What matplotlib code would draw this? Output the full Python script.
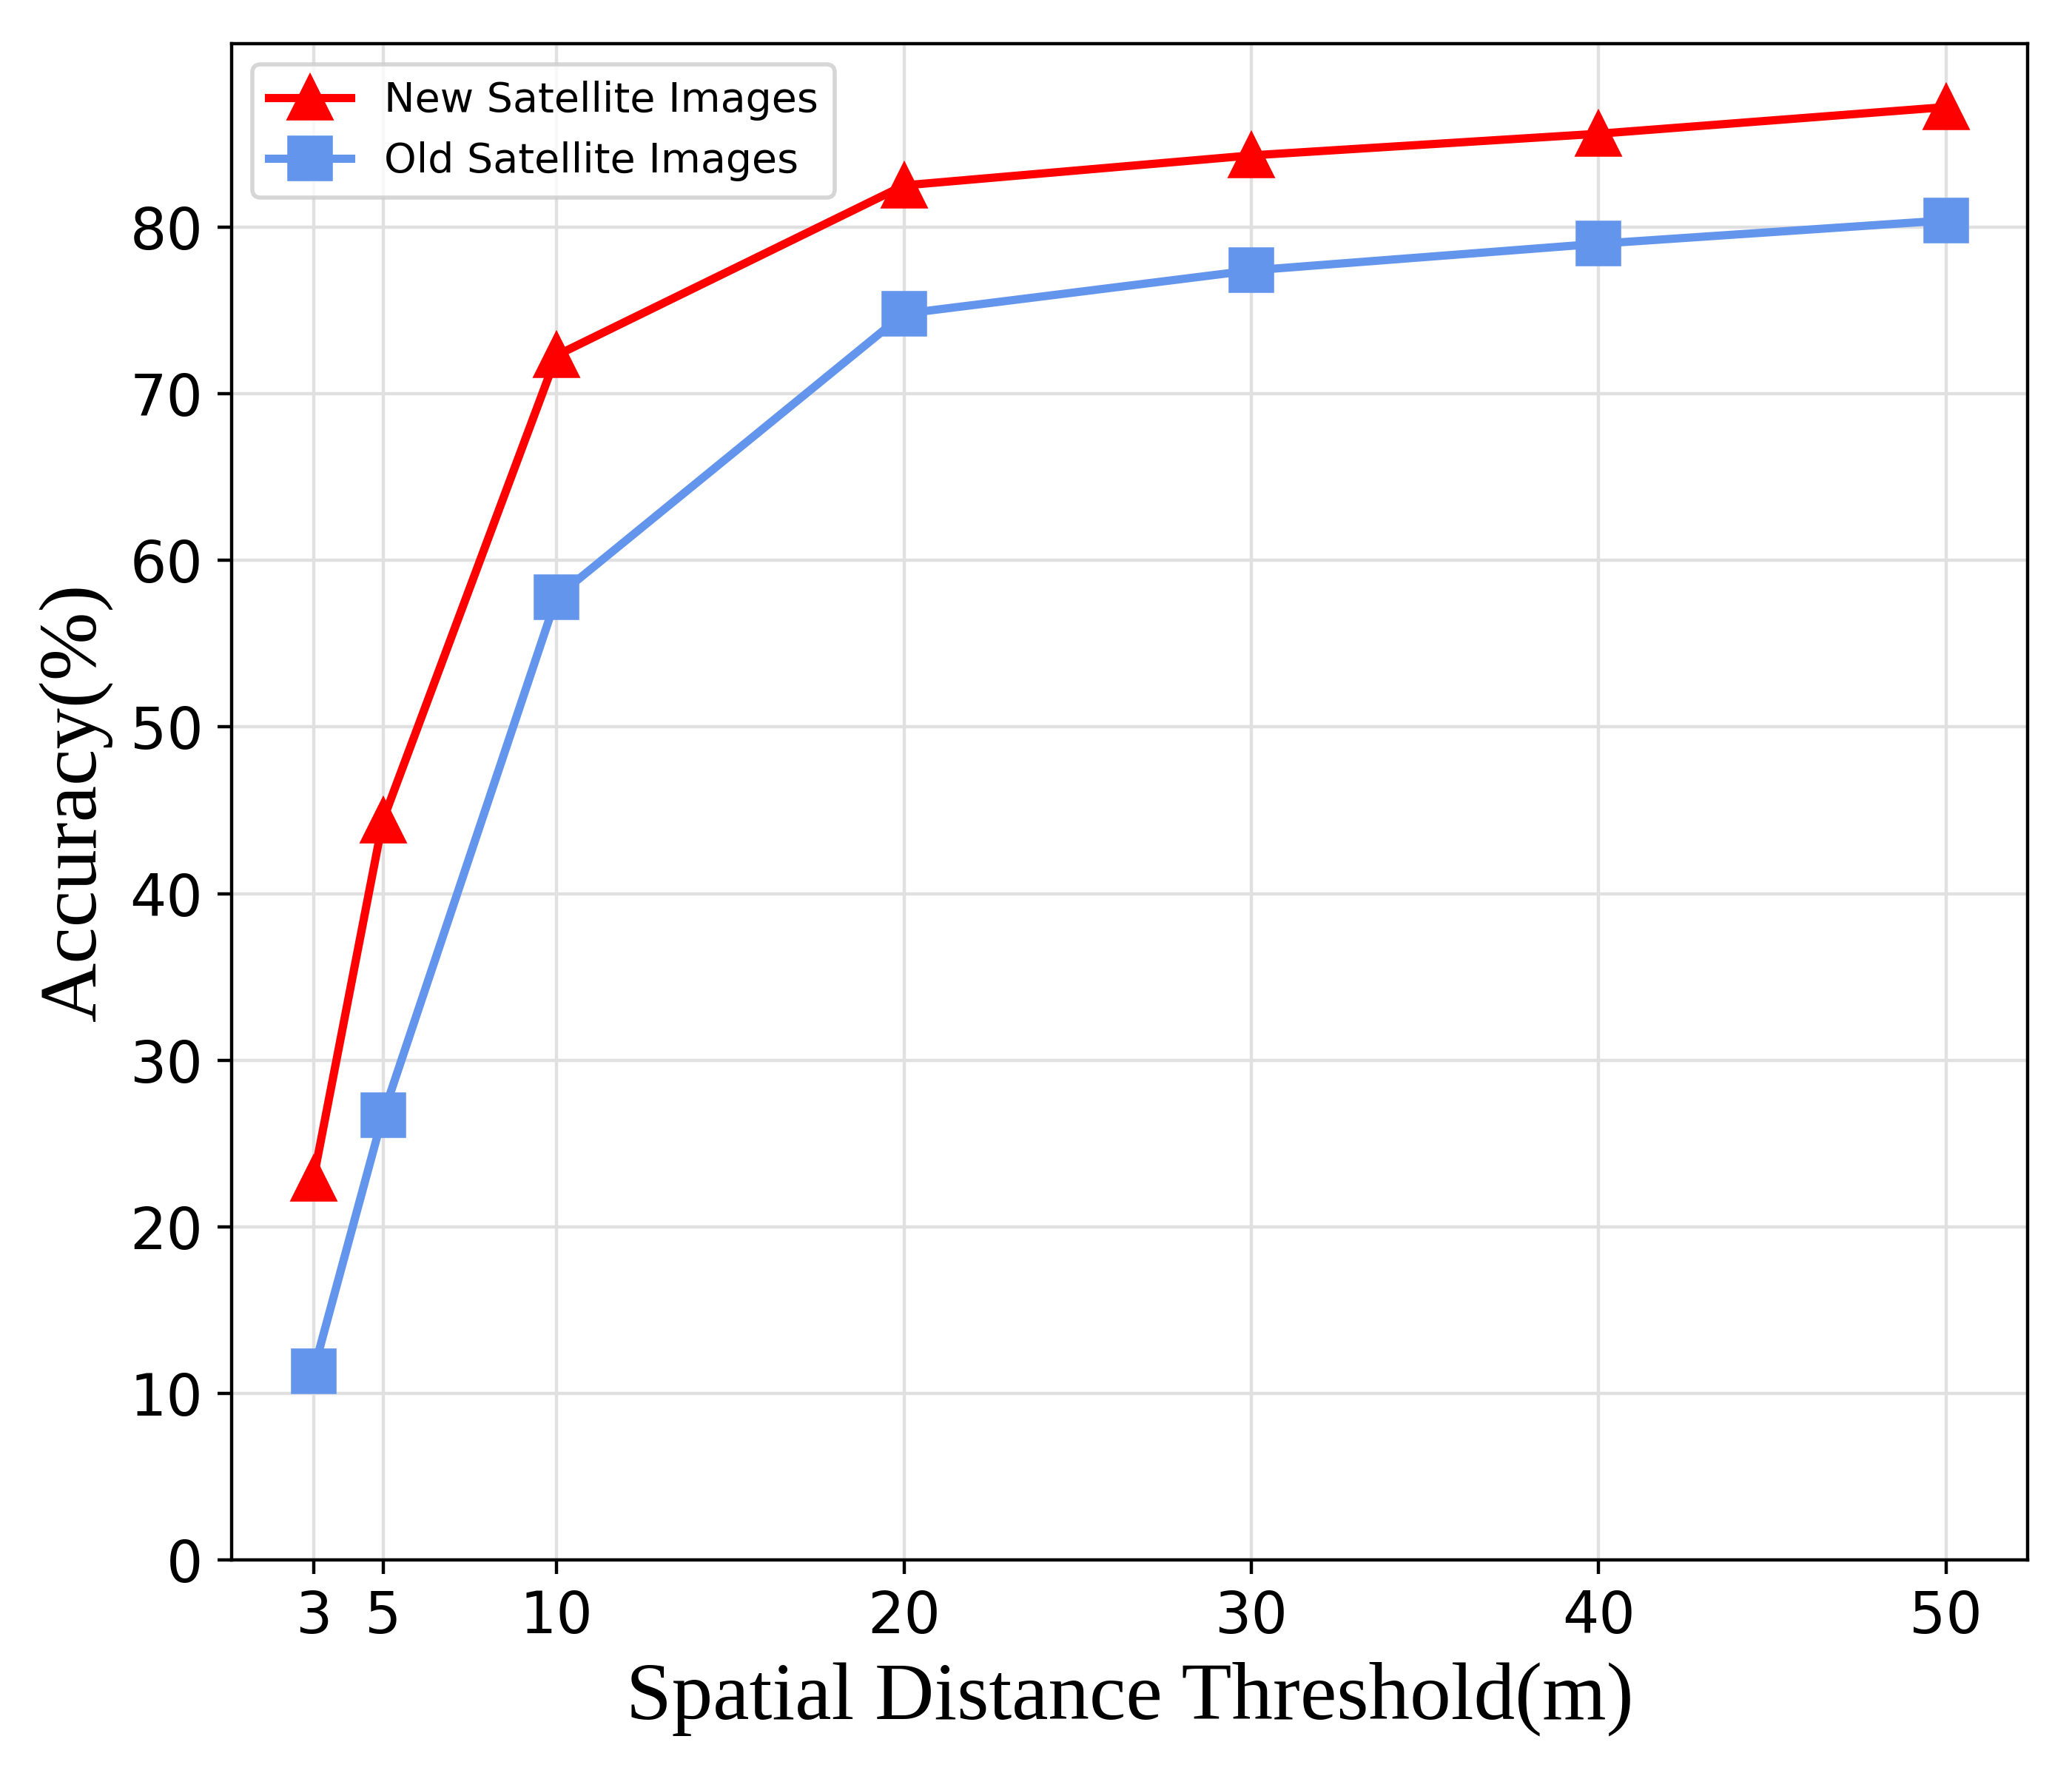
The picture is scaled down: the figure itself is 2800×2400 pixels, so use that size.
import matplotlib
matplotlib.use("Agg")
import matplotlib.pyplot as plt

thresholds = [3, 5, 10, 20, 30, 40, 50]
new_acc = [22.9, 44.4, 72.3, 82.5, 84.3, 85.6, 87.2]
old_acc = [11.35, 26.7, 57.8, 74.8, 77.4, 79.0, 80.4]
xtick_labels = ["3", "5", "10", "20", "30", "40", "50"]
yticks = [0, 10, 20, 30, 40, 50, 60, 70, 80]

fig, ax = plt.subplots(figsize=(7, 6), dpi=400)
ax.plot(thresholds, new_acc, color="red", marker="^", markersize=10, linewidth=2,
        label="New Satellite Images")
ax.plot(thresholds, old_acc, color="cornflowerblue", marker="s", markersize=10, linewidth=2,
        label="Old Satellite Images")
ax.set_ylim(bottom=0)
ax.set_xticks(thresholds)
ax.set_xticklabels(xtick_labels)
ax.set_yticks(yticks)
ax.tick_params(labelsize=14)
ax.grid(True, color="#e0e0e0", linewidth=0.8)
ax.set_axisbelow(True)
ax.set_xlabel("Spatial Distance Threshold(m)", fontsize=20, family="Liberation Serif")
ax.set_ylabel("Accuracy(%)", fontsize=20, family="Liberation Serif")
ax.legend(loc="upper left", fontsize=10)
fig.subplots_adjust(left=0.1119, right=0.9786, bottom=0.1215, top=0.9753)
fig.savefig("out.png", dpi=400)
